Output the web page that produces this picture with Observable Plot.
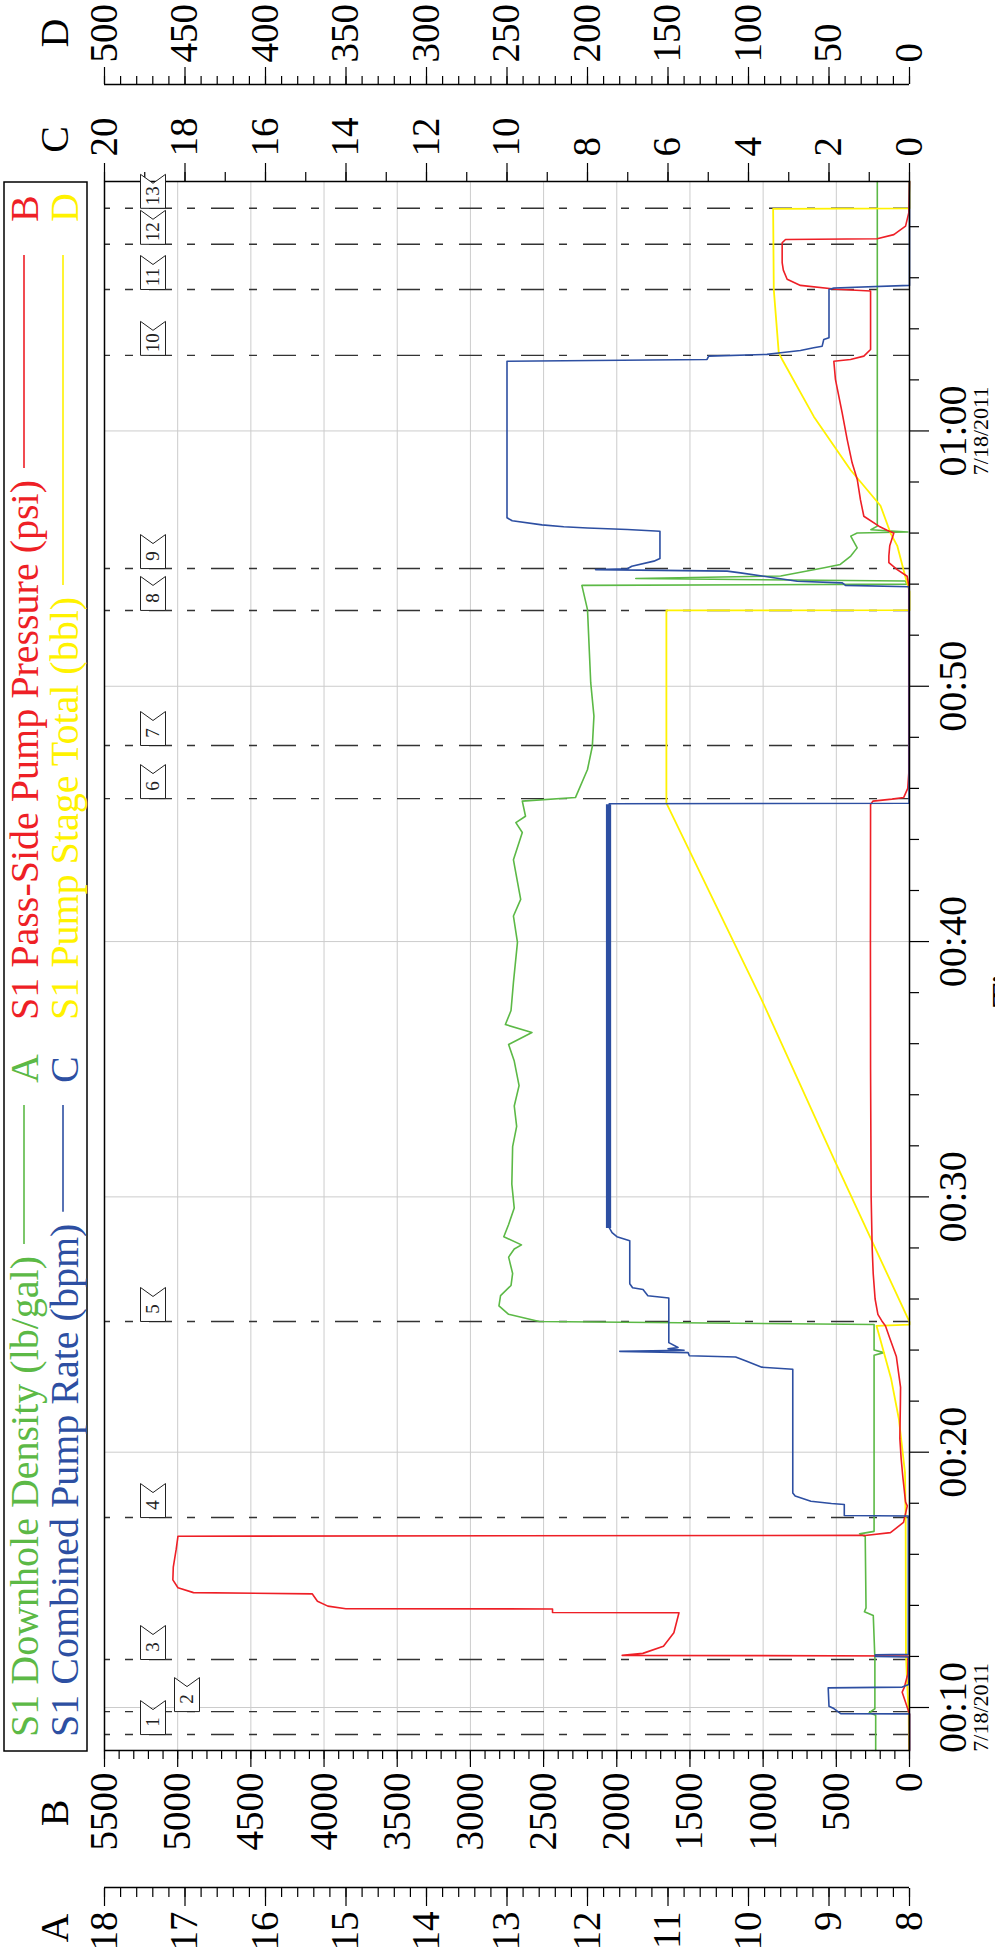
<!DOCTYPE html>
<html><head><meta charset="utf-8">
<script src="https://cdn.jsdelivr.net/npm/d3@7"></script>
<script src="https://cdn.jsdelivr.net/npm/@observablehq/plot@0.6"></script>
<style>
html,body{margin:0;padding:0;background:#fff;}
#page{position:relative;width:995px;height:1955px;overflow:hidden;background:#fff;}
#chart{position:absolute;left:0;top:0;width:1955px;height:995px;transform-origin:0 0;transform:translate(0px,1955px) rotate(-90deg);}
#chart svg{max-width:none !important;display:block;}
</style></head><body><div id="page"><div id="chart"></div></div>
<script>
// ---- data (time in minutes after 00:00 on 7/18/2011) ----
const greenTime = [8.32,9.70,9.80,9.95,11.90,13.60,13.75,13.90,16.70,16.80,16.90,23.80,23.90,24.00,25.00,25.12,25.40,25.73,26.13,26.53,27.00,27.64,27.96,28.12,28.44,28.92,29.56,30.50,31.97,32.76,33.56,34.36,35.32,35.97,36.44,36.75,37.30,38.40,39.97,41.00,41.65,43.20,44.27,44.66,44.91,45.50,45.64,46.74,47.65,48.83,50.14,53.00,53.95,54.00,54.12,54.22,54.32,54.64,54.77,55.10,55.42,55.88,56.00,56.04,56.13,56.27,69.77];
const greenDensity = [8.42,8.42,8.50,8.43,8.43,8.45,8.56,8.54,8.55,8.62,8.44,8.44,8.32,8.44,8.44,12.60,12.98,13.10,13.08,12.95,12.93,12.98,12.91,12.82,13.04,12.98,12.91,12.94,12.93,12.88,12.91,12.85,12.91,12.98,12.69,13.02,12.95,12.92,12.87,12.92,12.83,12.92,12.81,12.89,12.77,12.81,12.15,12.00,11.94,11.92,11.96,12.00,12.07,8.03,8.05,11.40,9.60,9.06,8.86,8.73,8.65,8.73,8.65,8.02,8.48,8.40,8.40];

const redTime = [8.32,9.75,10.00,10.60,10.80,11.30,12.02,12.04,12.12,12.40,12.93,13.71,13.72,13.86,13.87,13.97,14.16,14.39,14.45,14.50,14.69,15.00,15.50,16.20,16.71,16.74,16.85,17.25,17.90,18.05,19.00,19.75,20.54,22.00,22.54,23.00,23.75,24.45,24.94,25.15,25.40,26.00,27.00,28.00,30.00,35.00,40.00,45.37,45.50,45.58,45.64,46.00,46.60,53.94,54.31,54.57,54.84,55.10,55.50,56.00,56.10,56.27,56.66,57.30,58.10,58.75,59.67,60.71,62.02,62.73,62.80,62.93,63.19,65.48,65.55,65.70,65.94,66.30,66.59,67.37,67.50,67.53,67.69,68.02,68.54,69.77];
const redPressure = [0,0,15,50,35,12,10,1963,1822,1681,1610,1575,2439,2439,3851,3974,4045,4073,4080,4892,4998,5033,5030,5010,4998,304,130,41,15,27,45,57,66,62,61,72,90,134,164,190,216,235,248,255,262,266,267,266,250,120,40,12,5,5,16,84,141,141,135,107,150,209,312,335,357,392,426,460,506,517,403,312,266,266,500,745,836,862,870,870,847,221,107,27,5,0];

const blueTime = [8.32,9.75,9.76,9.96,10.05,10.77,10.80,10.90,11.98,12.00,12.06,12.08,17.50,17.52,17.95,17.99,18.08,18.28,18.40,23.25,23.33,23.57,23.73,23.78,23.90,23.95,23.99,24.05,24.10,24.29,26.04,26.13,26.37,26.44,26.60,28.28,28.44,28.60,28.80,45.40,45.42,53.90,53.95,54.05,54.11,54.31,54.44,54.51,54.57,54.60,54.70,54.90,55.00,56.07,56.14,56.20,56.25,56.32,56.48,56.60,62.73,62.80,62.93,63.00,63.06,63.15,63.26,63.32,63.58,63.65,65.54,65.60,65.70,69.77];
const blueRate = [0,0,1.71,1.88,2.00,2.02,0.18,0.02,0.02,0.85,0.85,0.03,0.03,1.62,1.62,1.94,2.45,2.84,2.90,2.90,3.67,4.06,4.32,5.47,5.50,7.20,5.60,6.00,5.75,5.98,5.98,6.50,6.62,6.88,6.95,6.95,7.27,7.39,7.46,7.46,0.01,0.01,1.59,1.67,2.79,3.62,4.20,4.53,7.80,7.01,6.90,6.35,6.20,6.20,7.01,8.00,8.59,9.13,9.87,10.00,10.00,5.03,4.99,3.54,3.20,2.71,2.38,2.17,2.13,2.00,2.00,1.88,0,0];
// rapid rate fluctuation band (drawn as a filled band)
const blueBandTime = [28.80,45.40];
const blueBandLow = [7.40,7.40];
const blueBandHigh = [7.53,7.53];

const yellowTime = [8.32,9.80,11.00,12.10,17.50,19.20,21.30,22.90,23.70,24.95,25.00,25.10,31.48,37.72,45.42,52.97,52.98,53.71,54.27,55.50,56.00,57.07,58.47,60.56,62.80,63.06,65.54,68.70,68.72,69.77];
const yellowTotal = [0.3,0.5,1.5,2.2,2.4,2.8,6.6,11.5,15.0,20.5,0,0,46.9,91.8,151,151,0,0,2.5,7.6,11.8,18.0,36.6,59.4,79.1,81.2,84.3,84.7,0,0];

const eventTimes = [8.94,9.84,11.88,17.44,25.12,45.60,47.68,52.97,54.61,62.96,65.54,67.31,68.72];
const eventLabels = ["1","2","3","4","5","6","7","8","9","10","11","12","13"];

const majorTimes = [10,20,30,40,50,60];
const dateLabel = "7/18/2011";
const aTicks = [8,9,10,11,12,13,14,15,16,17,18];
const bTicks = [0,500,1000,1500,2000,2500,3000,3500,4000,4500,5000,5500];
const cTicks = [0,2,4,6,8,10,12,14,16,18,20];
const dTicks = [0,50,100,150,200,250,300,350,400,450,500];

const legendItems = [
  {label:"S1 Downhole Density (lb/gal)", key:"A", col:0, row:0},
  {label:"S1 Pass-Side Pump Pressure (psi)", key:"B", col:1, row:0},
  {label:"S1 Combined Pump Rate (bpm)", key:"C", col:0, row:1},
  {label:"S1 Pump Stage Total (bbl)", key:"D", col:1, row:1}
];

// ---- styles ----
const COLORS = {A:"#5cb946", B:"#ee1f26", C:"#2d4fa2", D:"#fff200"};
const FONT = '"Liberation Serif", "Times New Roman", serif';
const T0 = 8.316, T1 = 69.77;
const BMAX = 5500;
const fromA = a => (a - 8) / 10 * BMAX;
const fromC = c => c / 20 * BMAX;
const fromD = d => d / 500 * BMAX;

const green = greenTime.map((t,i)=>({t, v: fromA(greenDensity[i])}));
const red = redTime.map((t,i)=>({t, v: redPressure[i]}));
const blue = blueTime.map((t,i)=>({t, v: fromC(blueRate[i])}));
const yellow = yellowTime.map((t,i)=>({t, v: fromD(yellowTotal[i])}));
const band = blueBandTime.map((t,i)=>({t, lo: fromC(blueBandLow[i]), hi: fromC(blueBandHigh[i])}));

// flags: lower a flag when it would collide with the previous one
const FLAG_MIN = 1.3;
const events = eventTimes.map((t,i)=>({t, label: eventLabels[i], low:false}));
for (let i=1;i<events.length;i++){
  if (events[i].t - events[i-1].t < FLAG_MIN && !events[i-1].low) events[i].low = true;
}
const flagSymbol = {draw(ctx){ ctx.moveTo(0,-12.5); ctx.lineTo(34,-12.5); ctx.lineTo(25,0); ctx.lineTo(34,12.5); ctx.lineTo(0,12.5); ctx.closePath(); }};

const pad = n => String(n).padStart(2,"0");
const fmtTime = t => pad(Math.floor(t/60)) + ":" + pad(t%60);
const minorTimes = d3.range(10,70,2).filter(t => t%10 !== 0 && t > T0 && t < T1);

const axisFont = 39;
const chart = Plot.plot({
  width: 1955, height: 995,
  marginLeft: 204, marginRight: 182, marginTop: 104, marginBottom: 86,
  x: {type:"linear", domain:[T0,T1]},
  y: {domain:[0,BMAX]},
  style: {fontFamily: FONT, fontSize: axisFont+"px", background:"white", color:"black"},
  marks: [
    Plot.ruleY(bTicks.filter(b=>b>0 && b<BMAX), {stroke:"#cccccc", strokeWidth:1}),
    Plot.ruleX(majorTimes, {stroke:"#cccccc", strokeWidth:1}),
    Plot.ruleX(eventTimes, {stroke:"#333", strokeWidth:1.4, strokeDasharray:"23,15,8,16", strokeDashoffset:17}),
    Plot.line(green, {x:"t", y:"v", stroke:COLORS.A, strokeWidth:1.6}),
    Plot.line(yellow, {x:"t", y:"v", stroke:COLORS.D, strokeWidth:1.8}),
    Plot.line(red, {x:"t", y:"v", stroke:COLORS.B, strokeWidth:1.6}),
    Plot.areaY(band, {x:"t", y1:"lo", y2:"hi", fill:COLORS.C}),
    Plot.line(blue, {x:"t", y:"v", stroke:COLORS.C, strokeWidth:1.6}),
    Plot.frame({stroke:"#000", strokeWidth:1.5}),
    // B axis (left, on frame)
    Plot.axisY(d3.range(0,BMAX+1,100), {anchor:"left", tickSize:8, tickFormat:()=>"", label:null, strokeWidth:1.2}),
    Plot.axisY(bTicks, {anchor:"left", tickSize:16, tickPadding:6, fontSize:axisFont, tickFormat:v=>String(v), label:null, strokeWidth:1.2}),
    // A axis (left, offset)
    Plot.ruleX([T0], {dx:-137, stroke:"#000", strokeWidth:1.5}),
    Plot.axisY(d3.range(0,51).map(i=>i*BMAX/50), {anchor:"left", dx:-137, tickSize:9, tickFormat:()=>"", label:null, strokeWidth:1.2}),
    Plot.axisY(aTicks.map(fromA), {anchor:"left", dx:-137, tickSize:18, tickPadding:6, fontSize:axisFont, tickFormat:v=>String(Math.round(v/550+8)), label:null, strokeWidth:1.2}),
    // C axis (right, on frame)
    Plot.axisY(d3.range(0,21).map(fromC), {anchor:"right", tickSize:9, tickFormat:()=>"", label:null, strokeWidth:1.2}),
    Plot.axisY(cTicks.map(fromC), {anchor:"right", tickSize:18, tickPadding:7, fontSize:axisFont, tickFormat:v=>String(Math.round(v/275)), label:null, strokeWidth:1.2}),
    // D axis (right, offset)
    Plot.ruleX([T1], {dx:97, stroke:"#000", strokeWidth:1.5}),
    Plot.axisY(d3.range(0,501,10).map(fromD), {anchor:"right", dx:97, tickSize:8, tickFormat:()=>"", label:null, strokeWidth:1.2}),
    Plot.axisY(dTicks.map(fromD), {anchor:"right", dx:97, tickSize:17, tickPadding:5, fontSize:axisFont, tickFormat:v=>String(Math.round(v/11)), label:null, strokeWidth:1.2}),
    // time axis
    Plot.axisX(minorTimes, {anchor:"bottom", tickSize:10, tickFormat:()=>"", label:null, strokeWidth:1.2}),
    Plot.axisX(majorTimes, {anchor:"bottom", tickSize:20, tickPadding:8, fontSize:40, tickFormat:fmtTime, label:null, strokeWidth:1.2}),
    Plot.text([10,60], {x:d=>d, text:()=>dateLabel, frameAnchor:"bottom", dy:63, lineAnchor:"top", fontSize:22}),
    Plot.text(["Time"], {text:d=>d, frameAnchor:"bottom", dy:81, lineAnchor:"top", fontSize:40}),
    // axis letters
    Plot.text(["A"], {text:d=>d, frameAnchor:"top-left", dx:26.5-204, dy:38.6-104, lineAnchor:"top", textAnchor:"middle", fontSize:40}),
    Plot.text(["B"], {text:d=>d, frameAnchor:"top-left", dx:141.5-204, dy:38.6-104, lineAnchor:"top", textAnchor:"middle", fontSize:40}),
    Plot.text(["C"], {text:d=>d, frameAnchor:"top-right", dx:1815-1773, dy:38.6-104, lineAnchor:"top", textAnchor:"middle", fontSize:40}),
    Plot.text(["D"], {text:d=>d, frameAnchor:"top-right", dx:1921.5-1773, dy:38.6-104, lineAnchor:"top", textAnchor:"middle", fontSize:40}),
    // event flags
    Plot.dot(events.filter(e=>!e.low), {x:"t", frameAnchor:"top", dy:48.5, symbol:flagSymbol, fill:"white", stroke:"#222", strokeWidth:1}),
    Plot.dot(events.filter(e=>e.low), {x:"t", frameAnchor:"top", dy:82.5, symbol:flagSymbol, fill:"white", stroke:"#222", strokeWidth:1}),
    Plot.text(events.filter(e=>!e.low), {x:"t", text:"label", frameAnchor:"top", dx:12.5, dy:48.5, lineAnchor:"middle", fontSize:19, fill:"#222"}),
    Plot.text(events.filter(e=>e.low), {x:"t", text:"label", frameAnchor:"top", dx:12.5, dy:82.5, lineAnchor:"middle", fontSize:19, fill:"#222"})
  ]
});
chart.style.maxWidth = "none";
chart.style.width = "1955px";
chart.style.height = "995px";
document.getElementById("chart").appendChild(chart);

// ---- legend (drawn above the plot area, inside the rotated chart) ----
const leg = d3.select("#chart").append("svg")
  .attr("width",1955).attr("height",100)
  .style("position","absolute").style("left","0px").style("top","0px")
  .style("font-family", FONT);
leg.append("rect").attr("x",204).attr("y",4).attr("width",1569).attr("height",83)
  .attr("fill","white").attr("stroke","#000").attr("stroke-width",1.5);
const colText = [218, 935], colLineEnd = [850, 1700], colKey = [872, 1733];
const rowBase = [38, 78], rowLine = [24, 63];
legendItems.forEach(it => {
  const c = COLORS[it.key];
  const tx = leg.append("text").attr("x",colText[it.col]).attr("y",rowBase[it.row])
    .attr("fill",c).attr("font-size",40).text(it.label);
  const w = tx.node().getComputedTextLength();
  leg.append("line").attr("x1",colText[it.col]+w+12).attr("x2",colLineEnd[it.col])
    .attr("y1",rowLine[it.row]).attr("y2",rowLine[it.row]).attr("stroke",c).attr("stroke-width",1.6);
  leg.append("text").attr("x",colKey[it.col]).attr("y",rowBase[it.row])
    .attr("fill",c).attr("font-size",40).text(it.key);
});
</script></body></html>
